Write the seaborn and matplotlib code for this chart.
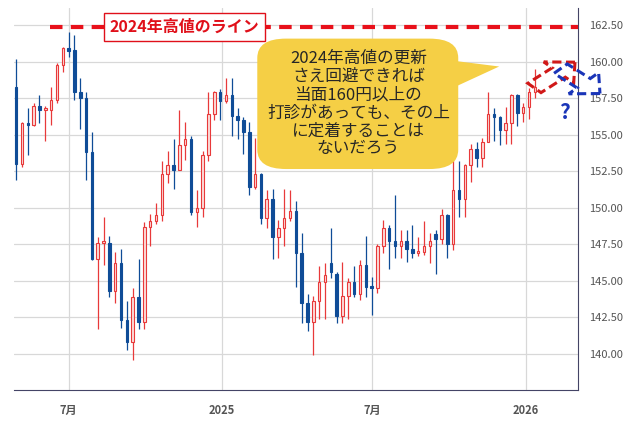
import matplotlib
matplotlib.use("Agg")
import matplotlib.pyplot as plt
import matplotlib.dates as mdates
from matplotlib.patches import FancyBboxPatch, Polygon, FancyArrow
import seaborn as sns
import pandas as pd

sns.set_style("white")
plt.rcParams["font.family"] = ["Noto Sans CJK JP", "DejaVu Sans"]

# weekly USD/JPY candles, from the week of 2024-04-29
opens = [158.3, 153.0, 155.8, 155.7, 157.0, 156.7, 156.7, 157.4, 159.8, 160.9,
         160.8, 157.9, 157.5, 153.8, 146.5, 147.6, 147.6, 144.3, 146.2, 142.3,
         140.8, 143.9, 142.2, 148.7, 149.1, 149.5, 152.3, 152.9, 152.6, 154.3,
         154.7, 149.7, 150.0, 153.6, 156.4, 157.9, 157.3, 157.7, 156.3, 156.0,
         155.2, 151.4, 152.3, 149.3, 150.6, 148.0, 148.6, 149.3, 149.8, 146.9,
         143.5, 142.2, 143.6, 144.9, 146.2, 145.5, 142.6, 144.0, 144.9, 144.1,
         146.1, 144.6, 144.5, 147.4, 148.6, 147.7, 147.4, 147.7, 147.2, 146.9,
         147.0, 147.4, 148.2, 147.9, 149.5, 147.5, 151.2, 150.6, 152.9, 154.0,
         153.4, 154.5, 156.4, 156.2, 155.3, 155.8, 157.7, 156.5, 156.9, 157.9]
highs = [160.2, 155.9, 156.8, 157.2, 157.7, 157.0, 158.3, 159.9, 161.0, 162.0,
         161.8, 158.9, 157.9, 155.2, 148.0, 149.4, 148.1, 147.0, 147.2, 143.6,
         144.5, 146.5, 149.0, 149.6, 150.3, 153.2, 153.9, 154.7, 156.7, 155.9,
         154.9, 151.2, 153.9, 157.9, 158.0, 158.1, 158.9, 158.9, 156.8, 156.2,
         155.9, 154.8, 152.4, 151.2, 151.3, 149.2, 151.3, 151.2, 150.5, 148.3,
         144.1, 144.0, 146.0, 146.2, 148.6, 145.6, 146.3, 145.2, 146.0, 146.4,
         148.1, 145.3, 147.5, 149.2, 148.8, 150.9, 148.5, 148.5, 148.8, 148.0,
         149.1, 148.3, 148.5, 149.9, 149.6, 153.3, 153.2, 153.0, 154.4, 154.5,
         154.8, 157.9, 156.8, 156.3, 156.9, 157.8, 157.8, 157.2, 158.2, 159.5]
lows = [151.9, 152.8, 153.6, 155.6, 155.8, 154.6, 155.7, 157.2, 159.3, 160.3,
        157.4, 155.4, 151.9, 146.4, 141.7, 146.1, 143.9, 143.5, 141.8, 140.3,
        139.6, 141.7, 141.7, 147.4, 148.9, 149.1, 151.7, 151.3, 152.6, 153.3,
        149.5, 148.7, 149.4, 153.2, 156.0, 156.0, 157.2, 154.9, 154.7, 153.7,
        150.9, 151.3, 148.9, 148.6, 146.5, 146.6, 147.4, 149.1, 144.6, 142.1,
        141.6, 139.9, 142.4, 142.4, 145.2, 142.1, 142.1, 142.4, 143.9, 143.7,
        143.9, 142.7, 144.2, 146.9, 145.8, 146.6, 146.6, 146.3, 146.6, 146.7,
        146.8, 146.2, 145.5, 147.5, 146.6, 147.1, 149.4, 149.4, 151.8, 152.8,
        152.8, 154.5, 154.6, 154.3, 154.4, 154.4, 155.6, 155.9, 156.1, 157.5]
closes = [153.0, 155.8, 155.7, 157.0, 156.7, 156.7, 157.4, 159.8, 160.9, 160.7,
          157.9, 157.5, 153.8, 146.5, 147.6, 147.6, 144.3, 146.2, 142.3, 140.8,
          143.9, 142.2, 148.7, 149.1, 149.5, 152.3, 152.9, 152.6, 154.3, 154.7,
          149.7, 150.0, 153.6, 156.4, 157.9, 157.3, 157.7, 156.3, 156.0, 155.2,
          151.4, 152.3, 149.3, 150.6, 148.0, 148.6, 149.3, 149.8, 146.9, 143.5,
          142.2, 143.6, 144.9, 145.4, 145.6, 142.6, 144.0, 144.9, 144.1, 146.1,
          144.6, 144.5, 147.4, 148.6, 147.7, 147.4, 147.7, 147.2, 146.9, 147.0,
          147.4, 147.7, 147.9, 149.5, 147.5, 151.2, 150.6, 152.9, 154.0, 153.4,
          154.5, 156.4, 156.2, 155.3, 155.8, 157.7, 156.5, 156.9, 157.9, 158.3]

df = pd.DataFrame({"date": pd.date_range("2024-04-29", periods=len(opens), freq="7D"),
                   "open": opens, "high": highs, "low": lows, "close": closes})
df["x"] = mdates.date2num(df["date"])
df["up"] = df["close"] >= df["open"]

RED = "#e8393a"
BLUE = "#0f4c97"

fig = plt.figure(figsize=(6.4, 4.29), dpi=100)
ax = fig.add_axes([0.022, 0.091, 0.881, 0.890])

for up, col, face in [(True, RED, "#fcdcd9"), (False, BLUE, BLUE)]:
    d = df[df["up"] == up]
    ax.vlines(d["x"], d["low"], d["high"], color=col, lw=0.9, zorder=2)
    bottom = d[["open", "close"]].min(axis=1)
    height = (d["close"] - d["open"]).abs().clip(lower=0.12)
    ax.bar(d["x"], height, bottom=bottom, width=3.0, color=face,
           edgecolor=col, linewidth=0.8, zorder=3)

ax.set_ylim(137.54, 163.66)
ax.set_xlim(df["x"].iloc[0] - 2.5, df["x"].iloc[0] + 96.4 * 7)
ax.yaxis.tick_right()
ax.set_yticks([140, 142.5, 145, 147.5, 150, 152.5, 155, 157.5, 160, 162.5])
ax.set_yticklabels([f"{v:.2f}" for v in ax.get_yticks()], color="#555555", fontsize=8)
xt = mdates.date2num(pd.to_datetime(["2024-07-01", "2025-01-01", "2025-07-01", "2026-01-01"]))
ax.set_xticks(xt)
ax.set_xticklabels(["7月", "2025", "7月", "2026"], color="#555555", fontsize=8,
                   fontweight="bold")
ax.tick_params(axis="both", length=0, pad=10)
ax.tick_params(axis="y", pad=8)
ax.grid(True, color="#d8d8d8", lw=0.9)
for s in ["top", "left"]:
    ax.spines[s].set_visible(False)
ax.spines["right"].set_color("#444466")
ax.spines["bottom"].set_color("#444466")

# 2024 high line
ax.axhline(162.4, xmin=0.064, xmax=1, color="#e8101a", lw=3, ls=(0, (3, 2)), zorder=4)
fig.text(0.288, 0.937, "2024年高値のライン", color="#e0101a", fontsize=11.5,
         fontweight="bold", ha="center", va="center",
         bbox=dict(boxstyle="square,pad=0.35", fc="white", ec="#e0101a", lw=1))

# speech bubble
bub = FancyBboxPatch((0.402, 0.606), 0.314, 0.304, boxstyle="round,pad=0,rounding_size=0.045",
                     transform=fig.transFigure, fc="#f5cf45", ec="none", zorder=5)
fig.patches.append(bub)
tail = Polygon([(0.70, 0.86), (0.78, 0.845), (0.70, 0.79)], closed=True,
               transform=fig.transFigure, fc="#f5cf45", ec="none", zorder=5)
fig.patches.append(tail)
fig.text(0.56, 0.758, "2024年高値の更新\nさえ回避できれば\n当面160円以上の\n打診があっても、その上\nに定着することは\nないだろう",
         ha="center", va="center", fontsize=12, linespacing=1.08, zorder=6)

# dashed arrows
a1 = FancyArrow(0.835, 0.795, 0.038, 0.036, width=0.03, head_width=0.068, head_length=0.035,
                transform=fig.transFigure, fill=False, ec="#d01818", lw=2.2, ls=(0, (3, 1.5)))
fig.patches.append(a1)
a2 = FancyArrow(0.876, 0.84, 0.036, -0.034, width=0.03, head_width=0.068, head_length=0.035,
                transform=fig.transFigure, fill=False, ec="#1a35b8", lw=2.2, ls=(0, (3, 1.5)))
fig.patches.append(a2)
fig.text(0.882, 0.738, "?", color="#1a35b8", fontsize=15, fontweight="bold",
         ha="center", va="center")

fig.savefig("out.png", dpi=100)
